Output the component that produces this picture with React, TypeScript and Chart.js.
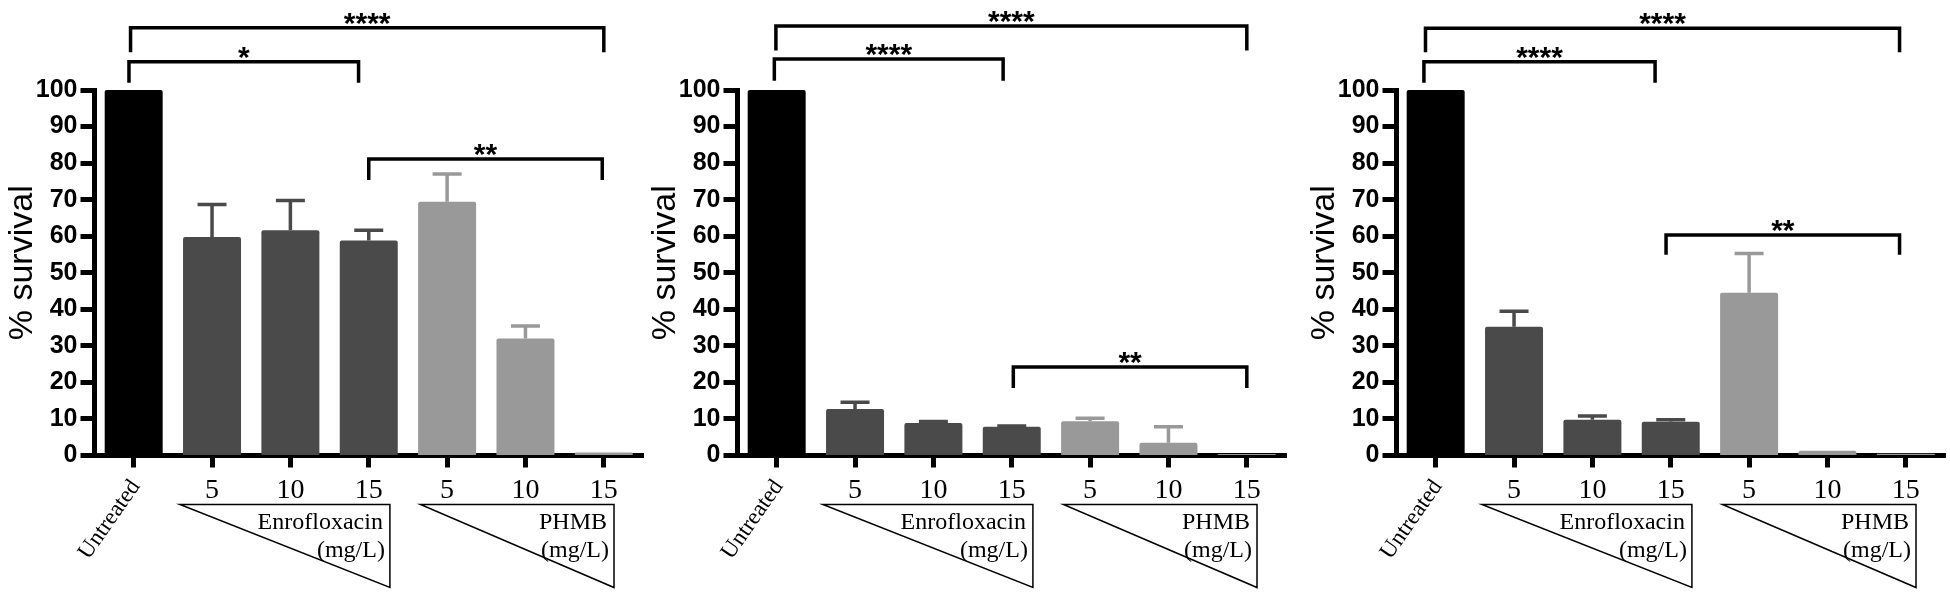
import React, { useEffect, useRef } from 'react';
import { Chart, registerables } from 'chart.js';

Chart.register(...registerables);

const SANS = '"Liberation Sans", Arial, sans-serif';
const SERIF = '"Liberation Serif", "Times New Roman", serif';

const categories = ['Untreated', '5', '10', '15', '5', '10', '15'];
const barShades = ['#000000', '#4a4a4a', '#4a4a4a', '#4a4a4a', '#999999', '#999999', '#999999'];

// % survival, mean and upper error (SD) per group
const panelAValues = [100, 59.8, 61.6, 58.8, 69.4, 32.0, 0.8];
const panelAErrors = [0, 8.9, 8.2, 2.8, 7.6, 3.4, 0];
const panelBValues = [100, 12.7, 8.9, 7.9, 9.4, 3.5, 0.4];
const panelBErrors = [0, 1.9, 0.4, 0.2, 0.8, 4.4, 0];
const panelCValues = [100, 35.2, 9.8, 9.2, 44.5, 1.3, 0.5];
const panelCErrors = [0, 4.3, 1.0, 0.6, 10.8, 0, 0];

// significance brackets: [from category, to category, y value, leg drop, stars]
type Bracket = [number, number, number, number, string];
const panelABrackets: Bracket[] = [
  [-0.04, 6.0, 117.0, 6.7, '****'],
  [-0.06, 2.87, 107.7, 5.7, '*'],
  [3.0, 5.98, 81.1, 5.7, '**'],
];
const panelBBrackets: Bracket[] = [
  [-0.01, 6.0, 117.5, 6.7, '****'],
  [-0.03, 2.89, 108.5, 6.0, '****'],
  [3.02, 6.0, 24.2, 5.7, '**'],
];
const panelCBrackets: Bracket[] = [
  [-0.13, 5.92, 116.9, 6.6, '****'],
  [-0.15, 2.8, 107.7, 5.7, '****'],
  [2.94, 5.92, 60.3, 5.4, '**'],
];

// dose wedges under the axis: [from category, to category, line 1, line 2]
const doseGroups: [number, number, string, string][] = [
  [0.59, 3.27, 'Enrofloxacin', '(mg/L)'],
  [3.66, 6.13, 'PHMB', '(mg/L)'],
];

interface PanelProps {
  left: number;
  values: number[];
  errors: number[];
  brackets: Bracket[];
}

function Panel({ left, values, errors, brackets }: PanelProps) {
  const canvasRef = useRef<HTMLCanvasElement>(null);
  const chartInstance = useRef<Chart | null>(null);

  useEffect(() => {
    if (!canvasRef.current) return;
    const ctx = canvasRef.current.getContext('2d');
    if (!ctx) return;

    const annotate = {
      id: 'annotate',
      afterDatasetsDraw(chart: Chart) {
        const c = chart.ctx;
        const y = chart.scales.y;
        const meta = chart.getDatasetMeta(0);
        c.save();
        meta.data.forEach((bar: any, i: number) => {
          const err = errors[i];
          if (!err) return;
          const top = y.getPixelForValue(values[i]);
          const cap = y.getPixelForValue(values[i] + err);
          const half = bar.width / 4;
          c.strokeStyle = barShades[i];
          c.lineWidth = 3.5;
          c.beginPath();
          c.moveTo(bar.x, top);
          c.lineTo(bar.x, cap);
          c.moveTo(bar.x - half, cap);
          c.lineTo(bar.x + half, cap);
          c.stroke();
        });
        c.restore();
      },
      afterDraw(chart: Chart) {
        const c = chart.ctx;
        const x = chart.scales.x;
        const y = chart.scales.y;
        const area = chart.chartArea;
        c.save();

        // significance brackets
        c.strokeStyle = '#000';
        c.fillStyle = '#000';
        c.lineWidth = 3.5;
        c.lineJoin = 'miter';
        brackets.forEach(([from, to, yv, drop, stars]) => {
          const x1 = x.getPixelForValue(from);
          const x2 = x.getPixelForValue(to);
          const yt = y.getPixelForValue(yv);
          const yb = y.getPixelForValue(yv - drop);
          c.beginPath();
          c.moveTo(x1, yb);
          c.lineTo(x1, yt);
          c.lineTo(x2, yt);
          c.lineTo(x2, yb);
          c.stroke();
          c.font = `bold 30px ${SANS}`;
          c.textAlign = 'center';
          c.textBaseline = 'alphabetic';
          c.fillText(stars, (x1 + x2) / 2, yt + 5);
        });

        // category labels
        categories.forEach((label, i) => {
          const px = x.getPixelForTick(i);
          if (i === 0) {
            c.save();
            c.translate(px + 2, area.bottom + 27);
            c.rotate((-55 * Math.PI) / 180);
            c.font = `23px ${SERIF}`;
            c.textAlign = 'right';
            c.textBaseline = 'middle';
            c.fillText(label, 0, 0);
            c.restore();
          } else {
            c.font = `28px ${SERIF}`;
            c.textAlign = 'center';
            c.textBaseline = 'alphabetic';
            c.fillText(label, px, area.bottom + 42.5);
          }
        });

        // dose wedges
        doseGroups.forEach(([from, to, l1, l2]) => {
          const x1 = x.getPixelForValue(from);
          const x2 = x.getPixelForValue(to);
          const top = area.bottom + 49;
          const bot = area.bottom + 132;
          c.lineWidth = 1.5;
          c.beginPath();
          c.moveTo(x1, top);
          c.lineTo(x2, top);
          c.lineTo(x2, bot);
          c.closePath();
          c.stroke();
          c.font = `24px ${SERIF}`;
          c.textAlign = 'right';
          c.textBaseline = 'alphabetic';
          c.fillText(l1, x2 - 7, area.bottom + 73);
          c.fillText(l2, x2 - 5, area.bottom + 101);
        });

        // y title
        c.save();
        c.translate(area.left - 63, (area.top + area.bottom) / 2 - 10);
        c.rotate(-Math.PI / 2);
        c.font = `34px ${SANS}`;
        c.textAlign = 'center';
        c.textBaseline = 'alphabetic';
        c.fillText('% survival', 0, 0);
        c.restore();

        c.restore();
      },
    };

    chartInstance.current = new Chart(ctx, {
      type: 'bar',
      data: {
        labels: categories,
        datasets: [
          {
            data: values,
            backgroundColor: barShades,
            borderWidth: 0,
            borderRadius: 2,
            barPercentage: 0.74,
            categoryPercentage: 1,
          },
        ],
      },
      options: {
        responsive: false,
        animation: false,
        layout: { padding: { left: 0, right: 7, top: 90, bottom: 0 } },
        plugins: {
          legend: { display: false },
          tooltip: { enabled: false },
        },
        scales: {
          x: {
            offset: true,
            grid: {
              display: true,
              drawOnChartArea: false,
              drawTicks: true,
              tickLength: 12,
              tickWidth: 5,
              tickColor: '#000',
              color: '#000',
              offset: false,
            },
            border: { display: true, width: 5, color: '#000' },
            ticks: { display: false },
            afterFit: (s: any) => {
              s.height = 137.5;
            },
          },
          y: {
            min: 0,
            max: 100,
            ticks: {
              stepSize: 10,
              color: '#000',
              padding: 3,
              font: { family: SANS, size: 25, weight: 'bold' },
            },
            grid: {
              drawOnChartArea: false,
              tickLength: 14,
              tickWidth: 5,
              tickColor: '#000',
              color: '#000',
            },
            border: { display: true, width: 5, color: '#000' },
            afterFit: (s: any) => {
              s.width = 94.5;
            },
          },
        },
      },
      plugins: [annotate],
    });

    return () => {
      chartInstance.current?.destroy();
    };
  }, [values, errors, brackets]);

  return (
    <div style={{ position: 'absolute', left, top: 0, width: 650, height: 593 }}>
      <canvas ref={canvasRef} width={650} height={593} style={{ width: 650, height: 593 }} />
    </div>
  );
}

export default function App() {
  return (
    <div
      style={{
        position: 'absolute',
        left: 0,
        top: 0,
        width: 1950,
        height: 593,
        background: '#fff',
        overflow: 'hidden',
      }}
    >
      <Panel left={0} values={panelAValues} errors={panelAErrors} brackets={panelABrackets} />
      <Panel left={643} values={panelBValues} errors={panelBErrors} brackets={panelBBrackets} />
      <Panel left={1302} values={panelCValues} errors={panelCErrors} brackets={panelCBrackets} />
    </div>
  );
}
